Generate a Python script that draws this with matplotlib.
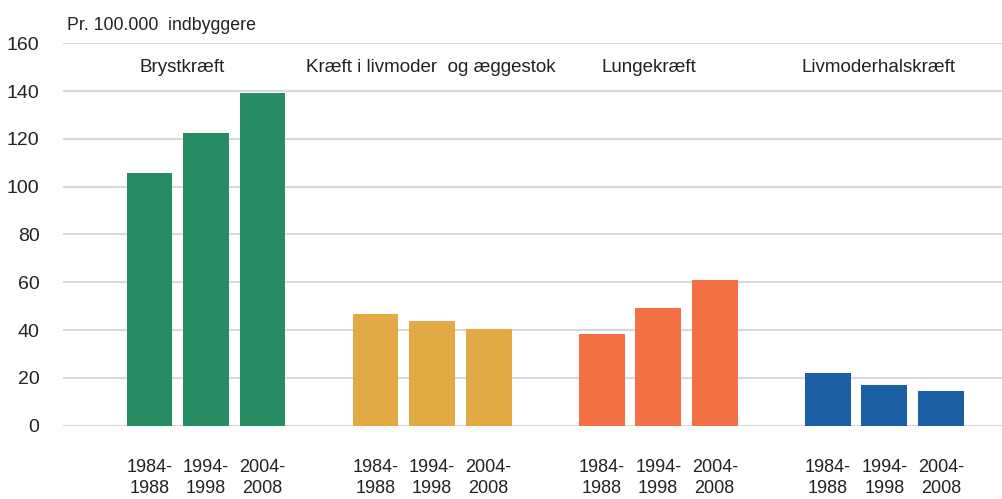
import numpy as np
import matplotlib.pyplot as plt

plt.rcParams['font.family'] = ['Liberation Sans', 'DejaVu Sans']

## data
categories = ['Brystkræft', 'Kræft i livmoder  og æggestok', 'Lungekræft', 'Livmoderhalskræft']
periods = ['1984-\n1988', '1994-\n1998', '2004-\n2008']
bryst = [105.9, 122.6, 139.1]
livmoder_aeg = [46.9, 43.7, 40.3]
lunge = [38.5, 49.4, 61.0]
livmoderhals = [21.9, 16.9, 14.4]
colors = ['#258c63', '#e3a945', '#f37044', '#1b5fa5']

series = [bryst, livmoder_aeg, lunge, livmoderhals]
label_x = [0.58, 4.97, 8.83, 12.9]

fig = plt.figure(figsize=(10.03, 4.99), dpi=100)
ax = fig.add_axes([63/1003, 1-425.7/499, (1003-63)/1003, (425.7-43.3)/499])

xticks, xlabels = [], []
for g, vals in enumerate(series):
	pos = np.arange(3) + 4*g
	ax.bar(pos, vals, width=0.81, color=colors[g], zorder=3)
	xticks += list(pos)
	xlabels += periods
	ax.text(label_x[g], 150, categories[g], ha='center', va='center', fontsize=13.5, color='#222222')

ax.set_xlim(-1.53, 15.1)
ax.set_ylim(0, 160)
ax.set_yticks(np.arange(0, 161, 20))
ax.set_xticks(xticks)
ax.set_xticklabels(xlabels, linespacing=1.3)
ax.tick_params(axis='both', length=0, labelsize=13, colors='#222222')
ax.tick_params(axis='x', pad=24)
ax.tick_params(axis='y', pad=17, labelsize=14)
ax.grid(axis='y', color='#d9d9d9', linewidth=1.5, zorder=0)
for s in ax.spines.values():
	s.set_visible(False)

fig.text(67/1003, 1-25/499, 'Pr. 100.000  indbyggere', fontsize=12.8, va='center', color='#222222')

fig.savefig('out.png', dpi=100)
